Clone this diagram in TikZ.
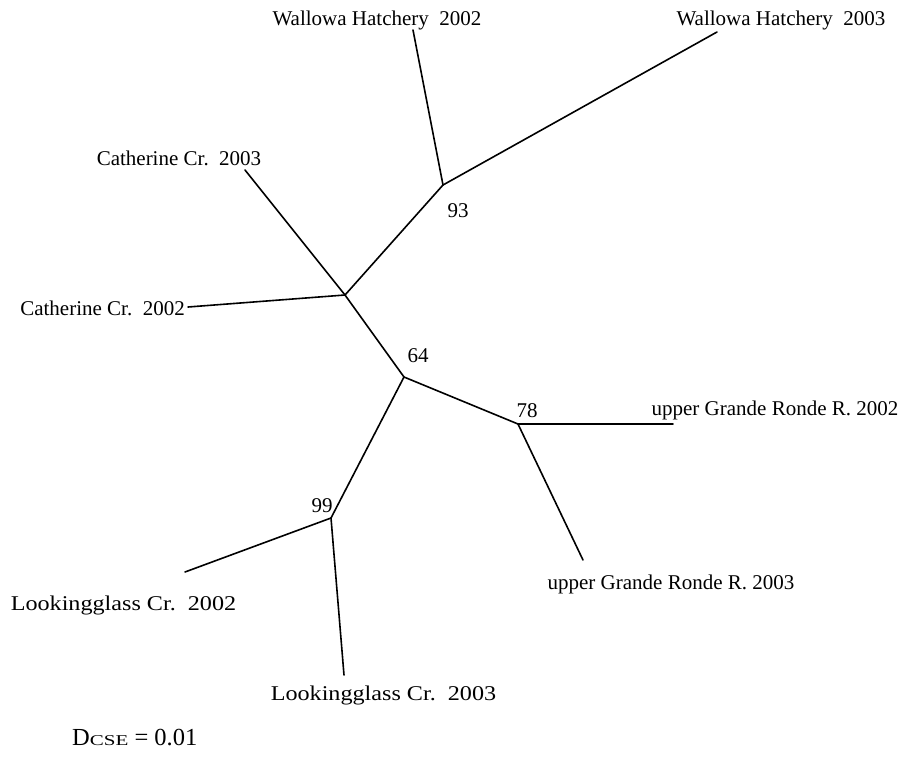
\documentclass[tikz,border=0pt]{standalone}
\usepackage{fontspec}
\setmainfont{Liberation Serif}
\begin{document}
\begin{tikzpicture}[x=1pt,y=-1pt,
  branch/.style={line width=1.6pt, line cap=round, line join=round},
  lbl/.style={font=\fontsize{21}{23}\selectfont, anchor=base, inner sep=0pt}]
\useasboundingbox (0,0) rectangle (906,761);
% internal nodes
\coordinate (n93) at (443,185);
\coordinate (ncat) at (345,295);
\coordinate (n64) at (404,377);
\coordinate (n78) at (518,424);
\coordinate (n99) at (331,518);
% leaf ends
\coordinate (w02) at (413,30);
\coordinate (w03) at (717,32);
\coordinate (c03) at (245,170);
\coordinate (c02) at (188,307);
\coordinate (g02) at (673,424);
\coordinate (g03) at (583,560);
\coordinate (l02) at (185,572);
\coordinate (l03) at (344,675);
% branches
\draw[branch] (n93) -- (w02);
\draw[branch] (n93) -- (w03);
\draw[branch] (n93) -- (ncat);
\draw[branch] (ncat) -- (c03);
\draw[branch] (ncat) -- (c02);
\draw[branch] (ncat) -- (n64);
\draw[branch] (n64) -- (n78);
\draw[branch] (n64) -- (n99);
\draw[branch] (n78) -- (g02);
\draw[branch] (n78) -- (g03);
\draw[branch] (n99) -- (l02);
\draw[branch] (n99) -- (l03);
% labels
\node[lbl] (tw02) at (377,25) {Wallowa Hatchery\ \ 2002};
\node[lbl] (tw03) at (781,25) {Wallowa Hatchery\ \ 2003};
\node[lbl] (tc03) at (179,165) {Catherine Cr.\ \ 2003};
\node[lbl, anchor=base east] (tc02) at (185,315) {Catherine Cr.\ \ 2002};
\node[lbl] (b93) at (458,217) {93};
\node[lbl] (b64) at (418,362) {64};
\node[lbl] (b78) at (527,417) {78};
\node[lbl] (b99) at (322,512) {99};
\node[lbl] (tg02) at (775,415) {upper Grande Ronde R. 2002};
\node[lbl] (tg03) at (671,589) {upper Grande Ronde R. 2003};
\node[lbl] (tl02) at (123.5,610) {\scalebox{1.15}[1]{Lookingglass Cr.\ \ 2002}};
\node[lbl] (tl03) at (383.5,700) {\scalebox{1.15}[1]{Lookingglass Cr.\ \ 2003}};
\node[lbl, anchor=base west] (scale) at (72,745) {\fontsize{24.5}{26}\selectfont D\scalebox{1.4}[1]{\fontsize{15}{16}\selectfont CSE} = 0.01};
\end{tikzpicture}
\end{document}
